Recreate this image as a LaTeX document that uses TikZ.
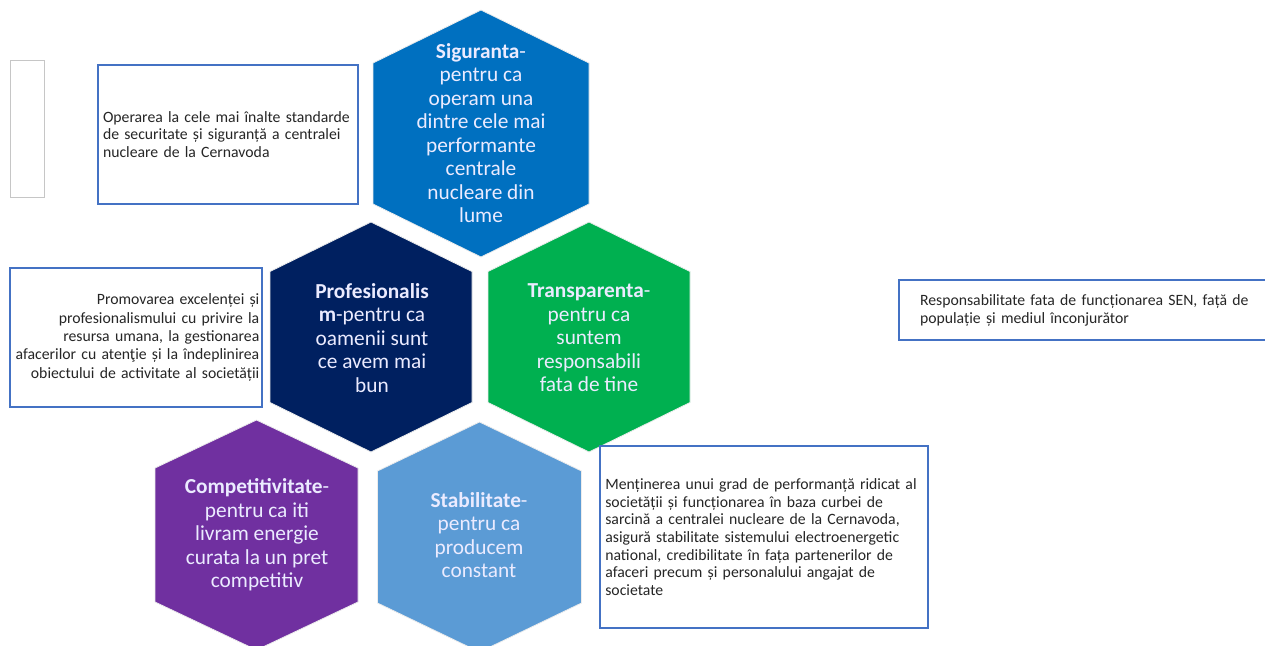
\documentclass[tikz,border=0pt]{standalone}
\usepackage{fontspec}
\setmainfont{Carlito}
\usetikzlibrary{positioning}
\definecolor{sigblue}{HTML}{0070C0}
\definecolor{profnavy}{HTML}{002060}
\definecolor{transpgreen}{HTML}{00B050}
\definecolor{comppurple}{HTML}{7030A0}
\definecolor{stablight}{HTML}{5B9BD5}
\definecolor{boxblue}{HTML}{4472C4}
\tikzset{
	hexlabel/.style={
			text=white!92!blue, align=center, inner sep=0pt,
			font=\fontsize{16}{17.6}\selectfont
		},
	infobox/.style={
			draw=boxblue, line width=1.5pt, fill=white, text=black!85,
			inner ysep=0pt, font=\fontsize{11.8}{13.2}\selectfont
		}
}

\begin{document}
\begin{tikzpicture}[x=0.75pt, y=-0.75pt]
	\useasboundingbox (0,0) rectangle (1265,646);
	\clip (0,0) rectangle (1265,646);

	% Draw the hexagons (centre x / centre y / half width / half side / half height / colour)
	\foreach \cx/\cy/\hw/\hs/\ha/\col in {
			481/133.5/108/70.5/123.5/sigblue,
			371/337/101/65.5/115/profnavy,
			589/337/101/65.5/115/transpgreen,
			256.5/535/101.5/67/115/comppurple,
			479.5/537/102/66/115/stablight} {
			\filldraw[fill=\col, draw=gray!15, line width=0.6pt]
			(\cx,\cy-\ha) -- (\cx+\hw,\cy-\hs) -- (\cx+\hw,\cy+\hs)
			-- (\cx,\cy+\ha) -- (\cx-\hw,\cy+\hs) -- (\cx-\hw,\cy-\hs) -- cycle;
		}

	% Hexagon texts
	\node[hexlabel] (sig) at (481,133) {\textbf{Siguranta}-\\pentru ca\\operam una\\dintre cele mai\\performante\\centrale\\nucleare din\\lume};
	\node[hexlabel] (prof) at (372,338) {\textbf{Profesionalis}\\\textbf{m}-pentru ca\\oamenii sunt\\ce avem mai\\bun};
	\node[hexlabel] (transp) at (589,338) {\textbf{Transparenta}-\\pentru ca\\suntem\\responsabili\\fata de tine};
	\node[hexlabel] (comp) at (257,535) {\textbf{Competitivitate}-\\pentru ca iti\\livram energie\\curata la un pret\\competitiv};
	\node[hexlabel] (stab) at (479,535) {\textbf{Stabilitate}-\\pentru ca\\producem\\constant};

	% Text boxes
	\node[draw=gray!45, line width=0.6pt, minimum width=25.5pt, minimum height=102.75pt] (blank) at (27,128.5) {};
	\node[infobox, minimum width=195pt, minimum height=104.25pt, text width=187.5pt, inner xsep=3.75pt, align=left] (boxop) at (228,134.5)
	{Operarea la cele mai înalte standarde\\de securitate și siguranță a centralei\\nucleare de la Cernavoda};
	\node[infobox, minimum width=189pt, minimum height=104.25pt, text width=185pt, inner xsep=2pt, align=right,
		font=\fontsize{11.8}{13.7}\selectfont] (boxprom) at (136,337.5)
	{Promovarea excelenței și\\profesionalismului cu privire la\\resursa umana, la gestionarea\\afacerilor cu atenţie și la îndeplinirea\\obiectului de activitate al societății};
	\node[infobox, minimum width=293.25pt, minimum height=45pt, text width=261.75pt, inner xsep=15.75pt, align=left,
		font=\fontsize{11.8}{13.5}\selectfont] (boxresp) at (1094.5,310)
	{Responsabilitate fata de funcționarea SEN, față de\\populație și mediul înconjurător};
	\node[infobox, minimum width=246pt, minimum height=136.5pt, text width=238pt, inner xsep=4pt, align=left] (boxment) at (764,537)
	{Menținerea unui grad de performanță ridicat al\\societății și funcționarea în baza curbei de\\sarcină a centralei nucleare de la Cernavoda,\\asigură stabilitate sistemului electroenergetic\\national, credibilitate în fața partenerilor de\\afaceri precum și personalului angajat de\\societate};
\end{tikzpicture}
\end{document}
